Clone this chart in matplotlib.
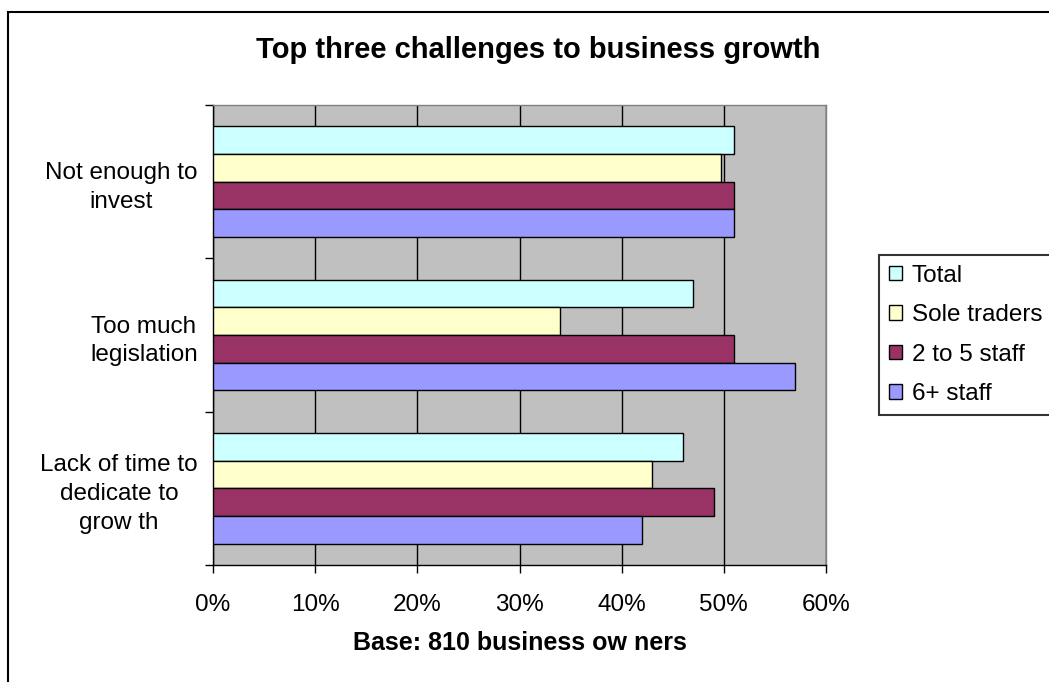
import matplotlib
matplotlib.use("Agg")
import matplotlib.pyplot as plt
import numpy as np
from matplotlib.patches import Rectangle
from matplotlib.ticker import FuncFormatter

plt.rcParams['font.family'] = ['Liberation Sans', 'DejaVu Sans']

# survey results (% of business owners)
categories = ["Not enough to\ninvest", "Too much\nlegislation", "Lack of time to\ndedicate to\ngrow th"]
series = ["Total", "Sole traders", "2 to 5 staff", "6+ staff"]
total = [51, 47, 46]
sole_traders = [49.7, 34, 43]
staff_2_5 = [51, 51, 49]
staff_6 = [51, 57, 42]
colors = ["#CCFFFF", "#FFFFCC", "#993366", "#9999FF"]

fig = plt.figure(figsize=(10.49, 6.82), dpi=100)
ax = fig.add_axes([213 / 1049, 117 / 682, 613 / 1049, 460 / 682])
ax.set_facecolor("#C0C0C0")

y = np.arange(len(categories))
h = 0.18
values = [total, sole_traders, staff_2_5, staff_6]
for i, (name, vals, c) in enumerate(zip(series, values, colors)):
    ax.barh(y + (i - 1.5) * h, vals, height=h, color=c, edgecolor="black",
            linewidth=1, label=name, zorder=3)

ax.set_xlim(0, 60)
ax.set_ylim(2.5, -0.5)
ax.set_xticks(np.arange(0, 61, 10))
ax.xaxis.set_major_formatter(FuncFormatter(lambda v, p: f"{v:.0f}%"))
ax.grid(axis="x", color="black", linewidth=1, zorder=1)

# category labels centred on groups, ticks at group boundaries
ax.set_yticks(y)
ax.set_yticklabels(categories, multialignment="center")
for lbl in ax.get_yticklabels():
    lbl.set_linespacing(1.4)
ax.set_yticks(np.arange(-0.5, 3, 1), minor=True)
ax.tick_params(axis="y", which="major", length=0, pad=11, labelsize=17.5)
ax.tick_params(axis="y", which="minor", length=6, width=1, direction="out")
ax.tick_params(axis="x", length=6, width=1, direction="out", pad=15, labelsize=17.5)

for s in ["top", "right"]:
    ax.spines[s].set_color("#808080")
    ax.spines[s].set_linewidth(1)
for s in ["left", "bottom"]:
    ax.spines[s].set_color("black")
    ax.spines[s].set_linewidth(1)

ax.set_xlabel("Base: 810 business ow ners", fontsize=18, fontweight="bold", labelpad=11)
fig.text(538 / 1049, 1 - 50 / 682, "Top three challenges to business growth",
         fontsize=21, fontweight="bold", ha="center", va="center")

leg = ax.legend(loc="upper left", bbox_to_anchor=(879 / 1049, 1 - 255 / 682),
                bbox_transform=fig.transFigure, fontsize=17.5, frameon=True,
                fancybox=False, edgecolor="black", handlelength=0.55,
                handleheight=0.55, handletextpad=0.4, labelspacing=0.72,
                borderpad=0.4, borderaxespad=0)
leg.get_frame().set_linewidth(1.5)

# outer chart border
fig.add_artist(Rectangle((8 / 1049, -0.1), 1.2, 1 - 12 / 682 + 0.1,
                         transform=fig.transFigure, fill=False,
                         edgecolor="black", linewidth=1.5))

fig.savefig("out.png", dpi=100)
